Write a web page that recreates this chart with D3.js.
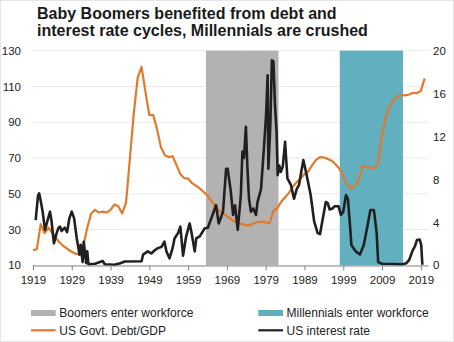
<!DOCTYPE html>
<html><head><meta charset="utf-8">
<script src="https://cdn.jsdelivr.net/npm/d3@7/dist/d3.min.js"></script>
<style>body{margin:0;background:#fff}svg{display:block;font-family:"Liberation Sans",Arial,sans-serif}</style>
</head><body><svg id="c" width="454" height="342"></svg>
<script>
const titleLines = ["Baby Boomers benefited from debt and", "interest rate cycles, Millennials are crushed"];
const xTicks = [1919,1929,1939,1949,1959,1969,1979,1989,1999,2009,2019];
const leftTicks = [10,30,50,70,90,110,130];
const rightTicks = [0,4,8,12,16,20];
const bands = [
  {name:"Boomers enter workforce", start:1963.6, end:1982.3, color:"#b2b2b2"},
  {name:"Millennials enter workforce", start:1998.1, end:2014.4, color:"#62b0bf"}
];
const seriesNames = ["US Govt. Debt/GDP", "US interest rate"];
const debtYears = [1919,1920,1921,1922,1923,1924,1925,1926,1927,1928,1929,1930,1931,1932,1933,1934,1935,1936,1937,1938,1939,1940,1941,1942,1943,1944,1945,1946,1947,1948,1949,1950,1951,1952,1953,1954,1955,1956,1957,1958,1959,1960,1961,1962,1963,1964,1965,1966,1967,1968,1969,1970,1971,1972,1973,1974,1975,1976,1977,1978,1979,1980,1981,1982,1983,1984,1985,1986,1987,1988,1989,1990,1991,1992,1993,1994,1995,1996,1997,1998,1999,2000,2001,2002,2003,2004,2005,2006,2007,2008,2009,2010,2011,2012,2013,2014,2015,2016,2017,2018,2019,2020];
const debtValues = [18.5,19,33,28,31,28,25,22.5,20.5,19,17.6,16.5,16,21,31,39,41,39.5,40,39.5,41,44,43,39,45,70,95,115,121,107,94,94,86,76,71.5,70.5,71,66,61,58.7,58.5,56,54.5,53,51,49,46,43,40.5,39,37.5,36,34.5,33.5,33,32.3,32.5,33.5,34.2,34.5,34,33.6,40.5,41.9,45.5,48,50.5,54,56.5,58.5,61,62.5,66,69,70.5,70.3,69.5,68.5,66.5,64,60,55,53,54.5,57.5,65.5,65,64.5,64.2,67,83,93,99,102.5,104.5,105.2,105,105.5,106.5,106.3,107.5,114.5];
const rateYears = [1919.7,1920.3,1920.6,1920.9,1921.5,1922.1,1922.7,1923.4,1923.8,1924.4,1925.1,1925.6,1926.0,1926.4,1927.2,1927.8,1928.4,1929.0,1929.6,1930.3,1931.0,1931.3,1931.8,1932.1,1932.7,1933.0,1933.3,1935,1937.0,1937.5,1940,1941.5,1942.7,1947.0,1947.4,1948.6,1949.5,1950.4,1951.2,1952.1,1952.9,1953.4,1954.2,1955.0,1955.5,1956.4,1957.0,1957.7,1958.5,1959.4,1959.9,1960.7,1961.1,1962.0,1963.3,1964.1,1965.0,1966.2,1966.9,1968.0,1968.8,1969.2,1970.0,1970.6,1971.1,1971.8,1972.6,1973.0,1973.4,1973.9,1974.3,1974.7,1975.2,1975.8,1976.5,1976.9,1977.8,1978.6,1979.1,1979.5,1979.7,1980.2,1980.6,1981.0,1981.4,1981.8,1982.1,1982.5,1982.9,1983.4,1984.0,1984.6,1985.5,1986.3,1987.0,1987.6,1988.7,1989.4,1990.6,1991.5,1992.4,1993.0,1993.8,1994.5,1995.0,1995.5,1996.2,1996.8,1997.8,1998.4,1999.0,1999.7,2000.2,2000.8,2001.1,2002.2,2003.3,2004.3,2005.2,2006.0,2006.9,2007.6,2008.0,2009.0,2012,2014.2,2015.3,2016.0,2016.8,2017.5,2018.0,2018.7,2019.1,2019.4];
const rateValues = [4.2,6.5,6.7,6.2,5.0,3.3,4.1,5.0,4.1,2.05,3.0,3.5,3.6,3.2,3.5,3.1,4.4,5.0,4.4,2.5,1.0,1.9,0.3,2.2,0.2,1.3,0.1,0.15,0.4,0.1,0.05,0.2,0.35,0.38,1.0,1.3,1.1,1.4,1.6,1.7,2.2,1.3,0.65,1.6,2.5,3.0,3.6,0.9,2.7,3.9,3.0,1.3,2.5,2.7,3.45,3.5,4.4,5.6,3.9,5.0,9.0,9.0,6.9,4.7,5.6,3.3,6.55,10.6,10.0,12.9,9.0,6.2,5.0,5.3,4.7,5.9,7.1,11.2,14.0,17.7,9.0,13.1,19.1,19.0,14.9,12.5,8.4,9.3,8.7,9.2,11.5,8.1,7.5,6.2,7.1,7.5,9.8,8.7,6.55,4.1,3.0,2.9,4.5,5.9,5.8,5.2,5.3,5.5,5.5,4.7,5.0,6.55,6.2,3.45,1.9,1.3,1.0,1.9,3.6,5.15,5.15,3.1,0.3,0.15,0.12,0.1,0.2,0.5,1.3,1.8,2.35,2.4,1.9,0.05];

const svg = d3.select("#c");
const orange = "#e07b2c", black = "#231f20";
const x = d3.scaleLinear().domain([1918.83, 2020.85]).range([32.3, 428]);
const yL = d3.scaleLinear().domain([10,130]).range([265.3, 50.7]);
const yR = d3.scaleLinear().domain([0,20]).range([265.3, 50.7]);

svg.append("rect").attr("x",0.5).attr("y",0.5).attr("width",453).attr("height",341).attr("fill","none").attr("stroke","#e6e6e6");

// title
svg.append("g").selectAll("text").data(titleLines).join("text")
  .attr("x",37).attr("y",(d,i)=>19.3+i*16.8)
  .attr("font-size","16px").attr("font-weight","bold").attr("fill","#1a1a1a").text(d=>d);

// gridlines
svg.append("g").selectAll("line").data(leftTicks).join("line")
  .attr("x1",32.3).attr("x2",428).attr("y1",d=>yL(d)).attr("y2",d=>yL(d))
  .attr("stroke","#ebebeb").attr("stroke-width",1);

// bands
svg.append("g").selectAll("rect").data(bands).join("rect")
  .attr("x",d=>x(d.start)).attr("width",d=>x(d.end)-x(d.start))
  .attr("y",yL(130)).attr("height",yL(10)-yL(130)).attr("fill",d=>d.color);

// lines
const debt = debtYears.map((y,i)=>[y,debtValues[i]]);
const rate = rateYears.map((y,i)=>[y,rateValues[i]]);
svg.append("path").datum(debt).attr("fill","none").attr("stroke",orange).attr("stroke-width",2.2)
  .attr("stroke-linejoin","round").attr("d",d3.line().x(d=>x(d[0])).y(d=>yL(d[1])));
svg.append("path").datum(rate).attr("fill","none").attr("stroke",black).attr("stroke-width",2.6)
  .attr("stroke-linejoin","round").attr("d",d3.line().x(d=>x(d[0])).y(d=>yR(d[1])));

// x axis
const xa = svg.append("g").attr("transform","translate(0,265.5)")
  .call(d3.axisBottom(x).tickValues(xTicks).tickFormat(d3.format("d")).tickSize(5).tickSizeOuter(0));
xa.select(".domain").attr("stroke","#888");
xa.selectAll(".tick line").attr("stroke","#888");
xa.selectAll(".tick text").attr("font-size","11.5px").attr("fill","#222").attr("font-family","Liberation Sans, Arial, sans-serif").attr("dy","0.9em");

// left axis
const la = svg.append("g").attr("transform","translate(21,0)")
  .call(d3.axisLeft(yL).tickValues(leftTicks).tickSize(0).tickPadding(0));
la.select(".domain").remove();
la.selectAll(".tick text").attr("font-size","11.5px").attr("fill","#222").attr("font-family","Liberation Sans, Arial, sans-serif");

// right axis
const ra = svg.append("g").attr("transform","translate(433,0)")
  .call(d3.axisRight(yR).tickValues(rightTicks).tickSize(0).tickPadding(0));
ra.select(".domain").remove();
ra.selectAll(".tick text").attr("font-size","11.5px").attr("fill","#222").attr("font-family","Liberation Sans, Arial, sans-serif");

// legend
const leg = svg.append("g").attr("font-size","12px").attr("fill","#222");
const legItems = [
  {label:bands[0].name, type:"rect", color:bands[0].color, lx:31, ly:313},
  {label:bands[1].name, type:"rect", color:bands[1].color, lx:258.3, ly:313},
  {label:seriesNames[0], type:"line", color:orange, lx:31, ly:330.3},
  {label:seriesNames[1], type:"line", color:black, lx:258.3, ly:330.3}
];
legItems.forEach(it=>{
  if(it.type==="rect") leg.append("rect").attr("x",it.lx).attr("y",it.ly-3).attr("width",24.7).attr("height",6).attr("fill",it.color);
  else leg.append("line").attr("x1",it.lx).attr("x2",it.lx+24.7).attr("y1",it.ly).attr("y2",it.ly).attr("stroke",it.color).attr("stroke-width",2.2);
  leg.append("text").attr("x",it.lx+28.3).attr("y",it.ly).attr("dy","0.36em").text(it.label);
});
</script></body></html>
